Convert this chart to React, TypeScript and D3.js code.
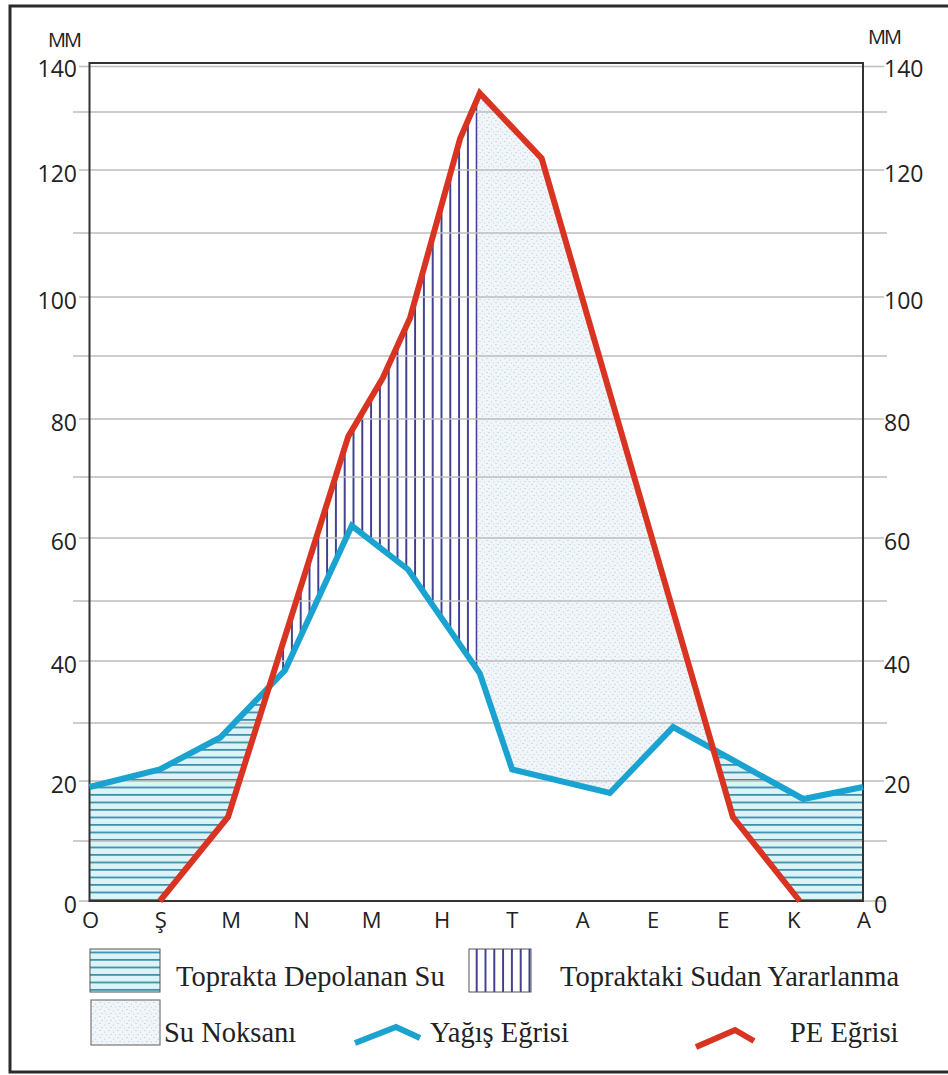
import React from "react";
import * as d3 from "d3";

// Month initials (Ocak ... Aralık)
const months = ["O", "Ş", "M", "N", "M", "H", "T", "A", "E", "E", "K", "A"];
const yTickValues = [0, 20, 40, 60, 80, 100, 120, 140];
const gridValues = [0, 10, 20, 30, 40, 50, 60, 70, 80, 90, 100, 110, 120, 130, 140];

// Yağış Eğrisi (precipitation): position along month axis (0 = O ... 11 = A) and mm
const precipMonth = [0, 1.0, 1.86, 2.78, 3.73, 4.53, 5.55, 6.01, 7.4, 8.3, 10.15, 11];
const precipMM = [19, 22, 27.5, 38.5, 62, 55, 38, 22, 18, 29.3, 17, 19];

// PE Eğrisi (potential evapotranspiration)
const peMonth = [1.0, 1.97, 3.68, 4.17, 4.56, 5.27, 5.55, 6.43, 9.15, 10.1];
const peMM = [0, 14, 77, 86.5, 96.5, 125.4, 134, 122, 14, 0];

// month position where soil water is exhausted (start of Su Noksanı)
const deficitStartMonth = 5.52;

const legendItems = [
  "Toprakta Depolanan Su",
  "Topraktaki Sudan Yararlanma",
  "Su Noksanı",
  "Yağış Eğrisi",
  "PE Eğrisi",
];

type P = [number, number];

export default function App() {
  const W = 948;
  const H = 1075;
  const left = 89.5;
  const right = 863;
  const x = d3.scaleLinear().domain([0, 11]).range([left, right]);
  // the printed chart's value axis is slightly uneven; map each grid value to its printed line
  const y = d3
    .scaleLinear()
    .domain(gridValues)
    .range([901, 841, 781, 723, 661, 601, 538, 477, 419, 356, 297, 233, 170, 112, 65]);

  const precip: P[] = precipMonth.map((m, i) => [m, precipMM[i]]);
  const pe: P[] = peMonth.map((m, i) => [m, peMM[i]]);
  const peExt: P[] = [[0, 0], ...pe, [11, 0]];

  const line = d3
    .line<P>()
    .x((d) => x(d[0]))
    .y((d) => y(d[1]));
  const areaToZero = d3
    .area<P>()
    .x((d) => x(d[0]))
    .y0(y(0))
    .y1((d) => y(d[1]));
  const topY = 40;
  const areaToTop = d3
    .area<P>()
    .x((d) => x(d[0]))
    .y0(topY)
    .y1((d) => y(d[1]));

  const xSplit = x(deficitStartMonth);
  const textColor = "#222";
  const sans = "'Open Sans', 'DejaVu Sans', sans-serif";
  const serif = "'Liberation Serif', 'DejaVu Serif', serif";
  const blue = "#1aa3d1";
  const red = "#d93322";

  // legend geometry
  const lg = { row1: 949, row2: 1000, sw: 70, sh: 43 };

  return (
    <svg
      width={W}
      height={H}
      style={{ position: "absolute", left: 0, top: 0, background: "#fff" }}
    >
      <defs>
        <pattern
          id="hatchH"
          patternUnits="userSpaceOnUse"
          width={20}
          height={7.5}
          x={0}
          y={y(0)}
        >
          <rect width={20} height={7.5} fill="#dcf4f8" />
          <rect y={5.6} width={20} height={1.6} fill="#2f84a3" />
        </pattern>
        <pattern
          id="hatchV"
          patternUnits="userSpaceOnUse"
          width={8.8}
          height={20}
          x={xSplit - 8.8}
          y={0}
        >
          <rect width={8.8} height={20} fill="#fff" />
          <rect x={6.9} width={1.9} height={20} fill="#3c3a8c" />
        </pattern>
        <pattern id="dots" patternUnits="userSpaceOnUse" width={9} height={7}>
          <rect width={9} height={7} fill="#f0f5f9" />
          <circle cx={1} cy={1.5} r={0.6} fill="#a7bccd" />
          <circle cx={5.5} cy={3} r={0.6} fill="#b3c6d4" />
          <circle cx={3} cy={5.5} r={0.55} fill="#a7bccd" />
          <circle cx={7.5} cy={6} r={0.5} fill="#b8cad7" />
        </pattern>
        <clipPath id="aboveRed">
          <path d={areaToTop(peExt) || ""} />
        </clipPath>
        <clipPath id="aboveBlue">
          <path d={areaToTop(precip) || ""} />
        </clipPath>
        <clipPath id="leftOfSplit">
          <rect x={0} y={0} width={xSplit} height={H} />
        </clipPath>
        <clipPath id="rightOfSplit">
          <rect x={xSplit} y={0} width={W} height={H} />
        </clipPath>
      </defs>

      {/* outer frame */}
      <rect x={10} y={6} width={960} height={1066} fill="none" stroke="#2b2b2b" strokeWidth={3} />

      {/* Toprakta Depolanan Su: precipitation above PE */}
      <g clipPath="url(#aboveRed)">
        <path d={areaToZero(precip) || ""} fill="url(#hatchH)" />
      </g>
      {/* Topraktaki Sudan Yararlanma and Su Noksanı: PE above precipitation */}
      <g clipPath="url(#aboveBlue)">
        <g clipPath="url(#leftOfSplit)">
          <path d={areaToZero(pe) || ""} fill="url(#hatchV)" />
        </g>
        <g clipPath="url(#rightOfSplit)">
          <path d={areaToZero(pe) || ""} fill="url(#dots)" />
        </g>
      </g>

      {/* grid lines */}
      {gridValues.map((v) => {
        const labeled = yTickValues.includes(v);
        return (
          <line
            key={v}
            x1={labeled ? 79 : 73}
            x2={labeled ? 884 : 887}
            y1={y(v) + (v === 140 ? 1.5 : 0)}
            y2={y(v) + (v === 140 ? 1.5 : 0)}
            stroke="#bdbdbd"
            strokeWidth={1.6}
          />
        );
      })}

      {/* plot box */}
      <rect
        x={left}
        y={63}
        width={right - left}
        height={y(0) - 63}
        fill="none"
        stroke="#333"
        strokeWidth={2}
      />

      {/* curves */}
      <path d={line(precip) || ""} fill="none" stroke={blue} strokeWidth={6} strokeLinejoin="miter" />
      <path d={line(pe) || ""} fill="none" stroke={red} strokeWidth={6} strokeLinejoin="miter" />

      {/* y labels */}
      {yTickValues.map((v) => (
        <g key={v} fontFamily={sans} fontSize={23} fill={textColor}>
          <text x={77} y={y(v) + 3} textAnchor="end" dominantBaseline="central">
            {v}
          </text>
          <text x={v === 0 ? 874 : 884} y={y(v) + 3} textAnchor="start" dominantBaseline="central">
            {v}
          </text>
        </g>
      ))}
      <text x={48} y={47} fontFamily={sans} fontSize={20} fill={textColor} letterSpacing={-2}>
        MM
      </text>
      <text x={868} y={44} fontFamily={sans} fontSize={20} fill={textColor} letterSpacing={-2}>
        MM
      </text>

      {/* x labels */}
      {months.map((m, i) => (
        <text
          key={i}
          x={x(i) + 1}
          y={919}
          textAnchor="middle"
          dominantBaseline="central"
          fontFamily={sans}
          fontSize={22}
          fill={textColor}
        >
          {m}
        </text>
      ))}

      {/* legend */}
      <g>
        <rect x={90} y={lg.row1} width={lg.sw} height={lg.sh} fill="url(#hatchH)" stroke="#555" strokeWidth={1} />
        <text x={176} y={986} fontFamily={serif} fontSize={28.5} fill={textColor}>
          {legendItems[0]}
        </text>
        <rect x={469} y={lg.row1} width={62} height={lg.sh} fill="url(#hatchV)" stroke="#555" strokeWidth={1} />
        <text x={560} y={986} fontFamily={serif} fontSize={28.5} fill={textColor}>
          {legendItems[1]}
        </text>
        <rect x={91} y={lg.row2} width={69} height={45} fill="url(#dots)" stroke="#777" strokeWidth={1.2} />
        <text x={164} y={1042} fontFamily={serif} fontSize={28.5} fill={textColor}>
          {legendItems[2]}
        </text>
        <polyline
          points="355,1043 396,1027 420,1038"
          fill="none"
          stroke={blue}
          strokeWidth={6}
          strokeLinejoin="miter"
        />
        <text x={430} y={1042} fontFamily={serif} fontSize={28.5} fill={textColor}>
          {legendItems[3]}
        </text>
        <polyline
          points="696,1047 735,1030 754,1041"
          fill="none"
          stroke={red}
          strokeWidth={6}
          strokeLinejoin="miter"
        />
        <text x={790} y={1042} fontFamily={serif} fontSize={28.5} fill={textColor}>
          {legendItems[4]}
        </text>
      </g>
    </svg>
  );
}
